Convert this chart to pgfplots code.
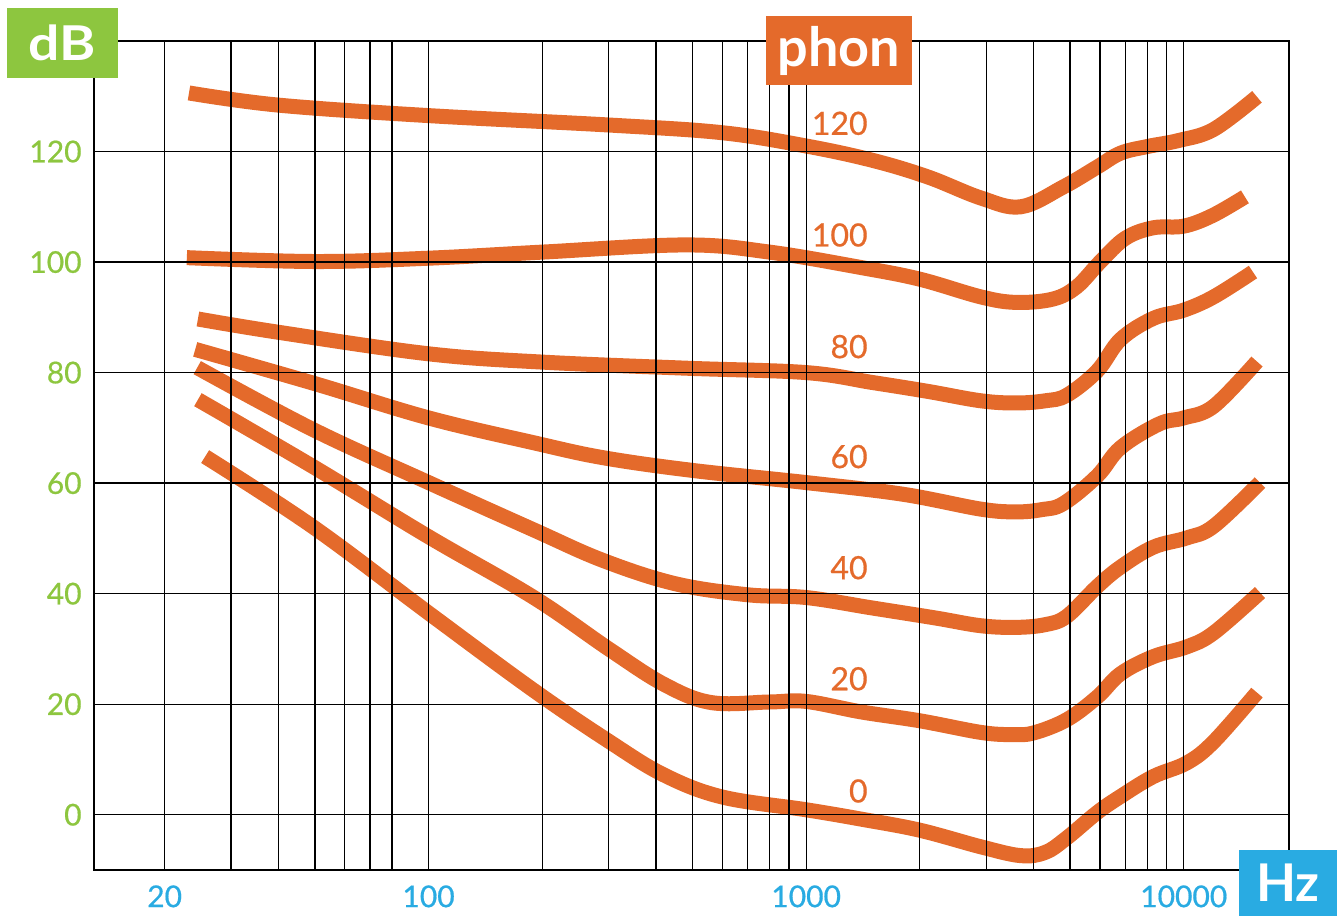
\documentclass[border=0pt]{standalone}
\usepackage{pgfplots}
\pgfplotsset{compat=1.18}
\usepackage{fontspec}
\setmainfont{Lato}
\newfontfamily\medfont{Lato}[FakeBold=0.6]

\definecolor{phon}{RGB}{228,106,43}
\definecolor{dbgreen}{RGB}{141,198,63}
\definecolor{hzblue}{RGB}{41,171,226}

\tikzset{
	curve/.style={phon, line width=7.5pt, smooth, tension=0.6},
	lbl/.style={text=phon, anchor=east, inner sep=0pt, font=\medfont\fontsize{16}{18}\selectfont},
}

\begin{document}
\begin{tikzpicture}
\useasboundingbox (-47pt,-23pt) rectangle (621.5pt,435pt);
\begin{axis}[
	at={(0pt,0pt)}, anchor=south west,
	scale only axis,
	width=597.5pt,
	height=414.5pt,
	xmode=log,
	xmin=13, xmax=19000,
	ymin=-10, ymax=140,
	xtick={20,100,1000,10000},
	xticklabels={20,100,1000,10000},
	minor xtick={30,40,50,60,70,80,200,300,400,500,600,700,800,900,2000,3000,4000,5000,6000,7000,8000,9000},
	ytick={0,20,40,60,80,100,120},
	yticklabels={0,20,40,60,80,100,120},
	grid=both,
	major grid style={black, line width=0.65pt},
	minor grid style={black, line width=0.65pt},
	axis line style={black, line width=0.65pt},
	major tick length=0pt,
	minor tick length=0pt,
	tick label style={font=\medfont\fontsize{15}{17}\selectfont, inner sep=0pt},
	xticklabel style={text=hzblue, anchor=north, yshift=-7.5pt},
	yticklabel style={text=dbgreen, anchor=east, xshift=-6pt},
	axis on top,
]

% 120 phon
\addplot[curve] coordinates {
(23.2,130.6) (40,128.4) (100,126.5) (300,124.8) (600,123.4) (1000,121.0)
(1500,118.4) (2100,115.4) (2900,111.6) (3700,110.0) (4800,113.6) (5900,117.2)
(6800,119.7) (8000,120.9) (9700,122.0) (12000,124.0) (15630,129.9)
};
% 100 phon
\addplot[curve] coordinates {
(22.9,100.8) (50,100.1) (100,100.7) (200,101.8) (480,103.1) (800,101.8)
(1400,99.0) (2000,96.9) (2900,93.7) (3600,92.7) (4500,93.3) (5200,95.5)
(6000,100.0) (7000,104.3) (8300,106.2) (10000,106.5) (11900,108.4) (14520,111.8)
};
% 80 phon
\addplot[curve] coordinates {
(24.5,89.7) (40,87.3) (100,83.4) (200,81.9) (480,80.8) (1000,80.0)
(1500,78.2) (2100,76.6) (2900,74.9) (3600,74.5) (4300,74.9) (4900,75.9)
(5900,80.3) (6800,86.0) (8300,89.8) (10000,91.3) (12000,93.7) (15250,98.2)
};
% 60 phon
\addplot[curve] coordinates {
(24.1,84.2) (50,78.0) (100,71.8) (190,67.3) (290,64.6) (500,62.3)
(1000,60.1) (1800,58.0) (2900,55.3) (3600,54.8) (4200,55.2) (4800,56.3)
(5900,61.3) (6800,66.4) (8600,70.7) (10000,71.8) (12000,73.9) (15630,82.0)
};
% 40 phon
\addplot[curve] coordinates {
(24.4,80.9) (49.4,69.7) (100,60.1) (189,51.6) (290,46.0) (450,41.8)
(700,39.8) (1000,39.3) (1500,37.4) (2200,35.6) (2900,34.2) (3600,33.9)
(4300,34.4) (4900,35.9) (5900,41.3) (6800,44.8) (8300,48.4) (10200,50.1)
(12000,52.2) (15920,60.1)
};
% 20 phon
\addplot[curve] coordinates {
(24.5,75.1) (49.4,63.0) (100,50.3) (189,39.4) (300,30.0) (420,23.6)
(560,20.3) (800,20.4) (1000,20.5) (1400,18.6) (2000,17.0) (2900,14.9)
(3500,14.5) (4000,14.8) (4900,17.2) (5900,21.3) (6800,25.5) (8300,28.6)
(10200,30.4) (12000,32.9) (15920,40.2)
};
% 0 phon
\addplot[curve] coordinates {
(25.6,64.8) (49.4,52.1) (100,36.5) (189,22.6) (300,13.3) (420,7.2)
(600,3.2) (1000,0.9) (1400,-0.8) (2000,-2.8) (2900,-5.8) (3700,-7.4)
(4300,-6.8) (4900,-4.2) (5900,0.4) (6800,3.3) (8300,6.9) (10200,9.4)
(12000,13.2) (15630,22.1)
};

\node[lbl] at (axis cs:1458,125.1) {120};
\node[lbl] at (axis cs:1458,104.9) {100};
\node[lbl] at (axis cs:1458,84.7) {80};
\node[lbl] at (axis cs:1458,64.8) {60};
\node[lbl] at (axis cs:1458,44.7) {40};
\node[lbl] at (axis cs:1458,24.6) {20};
\node[lbl] at (axis cs:1458,4.3) {0};
\end{axis}

% unit boxes
\fill[dbgreen] (-43.5pt,396pt) rectangle (12pt,431pt);
\node[text=white, font=\bfseries\fontsize{24}{26}\selectfont, inner sep=0pt] at (-15.75pt,413.5pt) {\scalebox{1.15}[1]{dB}};
\fill[phon] (336pt,392.5pt) rectangle (409pt,427pt);
\node[text=white, font=\bfseries\fontsize{27}{29}\selectfont, inner sep=0pt] at (372.5pt,409.75pt) {phon};
\fill[hzblue] (572.5pt,-23pt) rectangle (621.5pt,10pt);
\node[text=white, font=\bfseries\fontsize{26}{28}\selectfont, inner sep=0pt] at (597pt,-6.5pt) {Hz};
\end{tikzpicture}
\end{document}
